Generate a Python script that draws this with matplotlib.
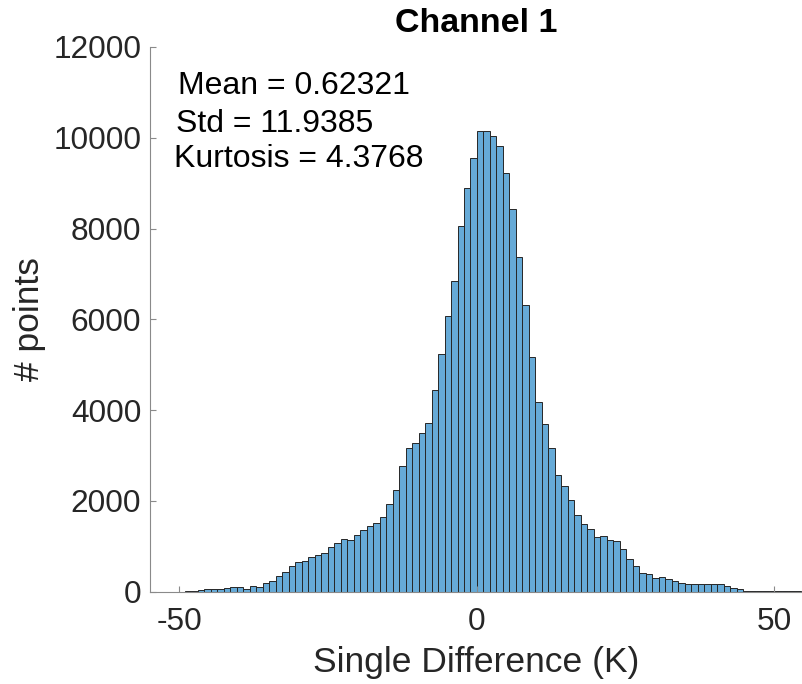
import numpy as np
import matplotlib
matplotlib.use("Agg")
import matplotlib.pyplot as plt

plt.rcParams['font.family'] = ['Liberation Sans', 'DejaVu Sans']

bin_start = -49.05
bin_width = 1.091
counts = [15, 20, 40, 50, 65, 65, 88, 95, 95, 65,
          124, 95, 182, 240, 343, 430, 569, 642, 671, 759,
          795, 846, 970, 1073, 1160, 1145, 1240, 1355, 1440, 1503,
          1634, 1927, 2240, 2766, 3160, 3270, 3504, 3708, 4437, 5234,
          6073, 6833, 8050, 8891, 9548, 10150, 10150, 10037, 9811, 9220,
          8423, 7380, 6307, 5168, 4183, 3701, 3153, 2562, 2321, 2021,
          1686, 1489, 1380, 1211, 1226, 1139, 1109, 941, 723, 569,
          416, 379, 291, 321, 285, 226, 197, 175, 160, 175,
          175, 160, 175, 131, 88, 66, 22, 8, 6, 5,
          4, 3, 3, 2, 2]

stats_text = ["Mean = 0.62321", "Std = 11.9385", "Kurtosis = 4.3768"]
stats_x = [-50.2, -50.6, -50.9]
stats_y = [10964, 10133, 9349]

title = "Channel 1"
xlabel = "Single Difference (K)"
ylabel = "# points"
xticks = [-50, 0, 50]
yticks = [0, 2000, 4000, 6000, 8000, 10000, 12000]

W, H = 802, 684
fig = plt.figure(figsize=(W / 100, H / 100), dpi=100)
left, right, bottom, top = 149.6, 803.8, 591.5, 47.0
ax = fig.add_axes([left / W, (H - bottom) / H, (right - left) / W, (bottom - top) / H])

lefts = bin_start + bin_width * np.arange(len(counts))
ax.bar(lefts, counts, width=bin_width, align='edge', color='#66AAD7',
       edgecolor='#262626', linewidth=0.7)

ax.set_xlim(-55, 55)
ax.set_ylim(0, 12000)
ax.set_xticks(xticks)
ax.set_yticks(yticks)
ax.set_xticklabels([str(t) for t in xticks])
ax.set_yticklabels([str(t) for t in yticks])

for s in ['top', 'right']:
    ax.spines[s].set_visible(False)
for s in ['left', 'bottom']:
    ax.spines[s].set_color('#8a8a8a')
    ax.spines[s].set_linewidth(0.8)

ax.tick_params(axis='both', direction='in', length=4.5, width=0.8, color='#8a8a8a',
               labelsize=22.8, labelcolor='#262626')
ax.tick_params(axis='x', pad=11)
ax.tick_params(axis='y', pad=6)

ax.set_xlabel(xlabel, fontsize=25.5, color='#262626')
ax.set_ylabel(ylabel, fontsize=25.5, color='#262626')
ax.xaxis.set_label_coords(0.4995, -0.100)
ax.yaxis.set_label_coords(-0.159, 0.5)
ax.set_title(title, fontsize=24.5, fontweight='bold', pad=11)

for t, x, y in zip(stats_text, stats_x, stats_y):
    ax.text(x, y, t, fontsize=23, ha='left', va='baseline', color='black')

fig.savefig("out.png", dpi=100)
